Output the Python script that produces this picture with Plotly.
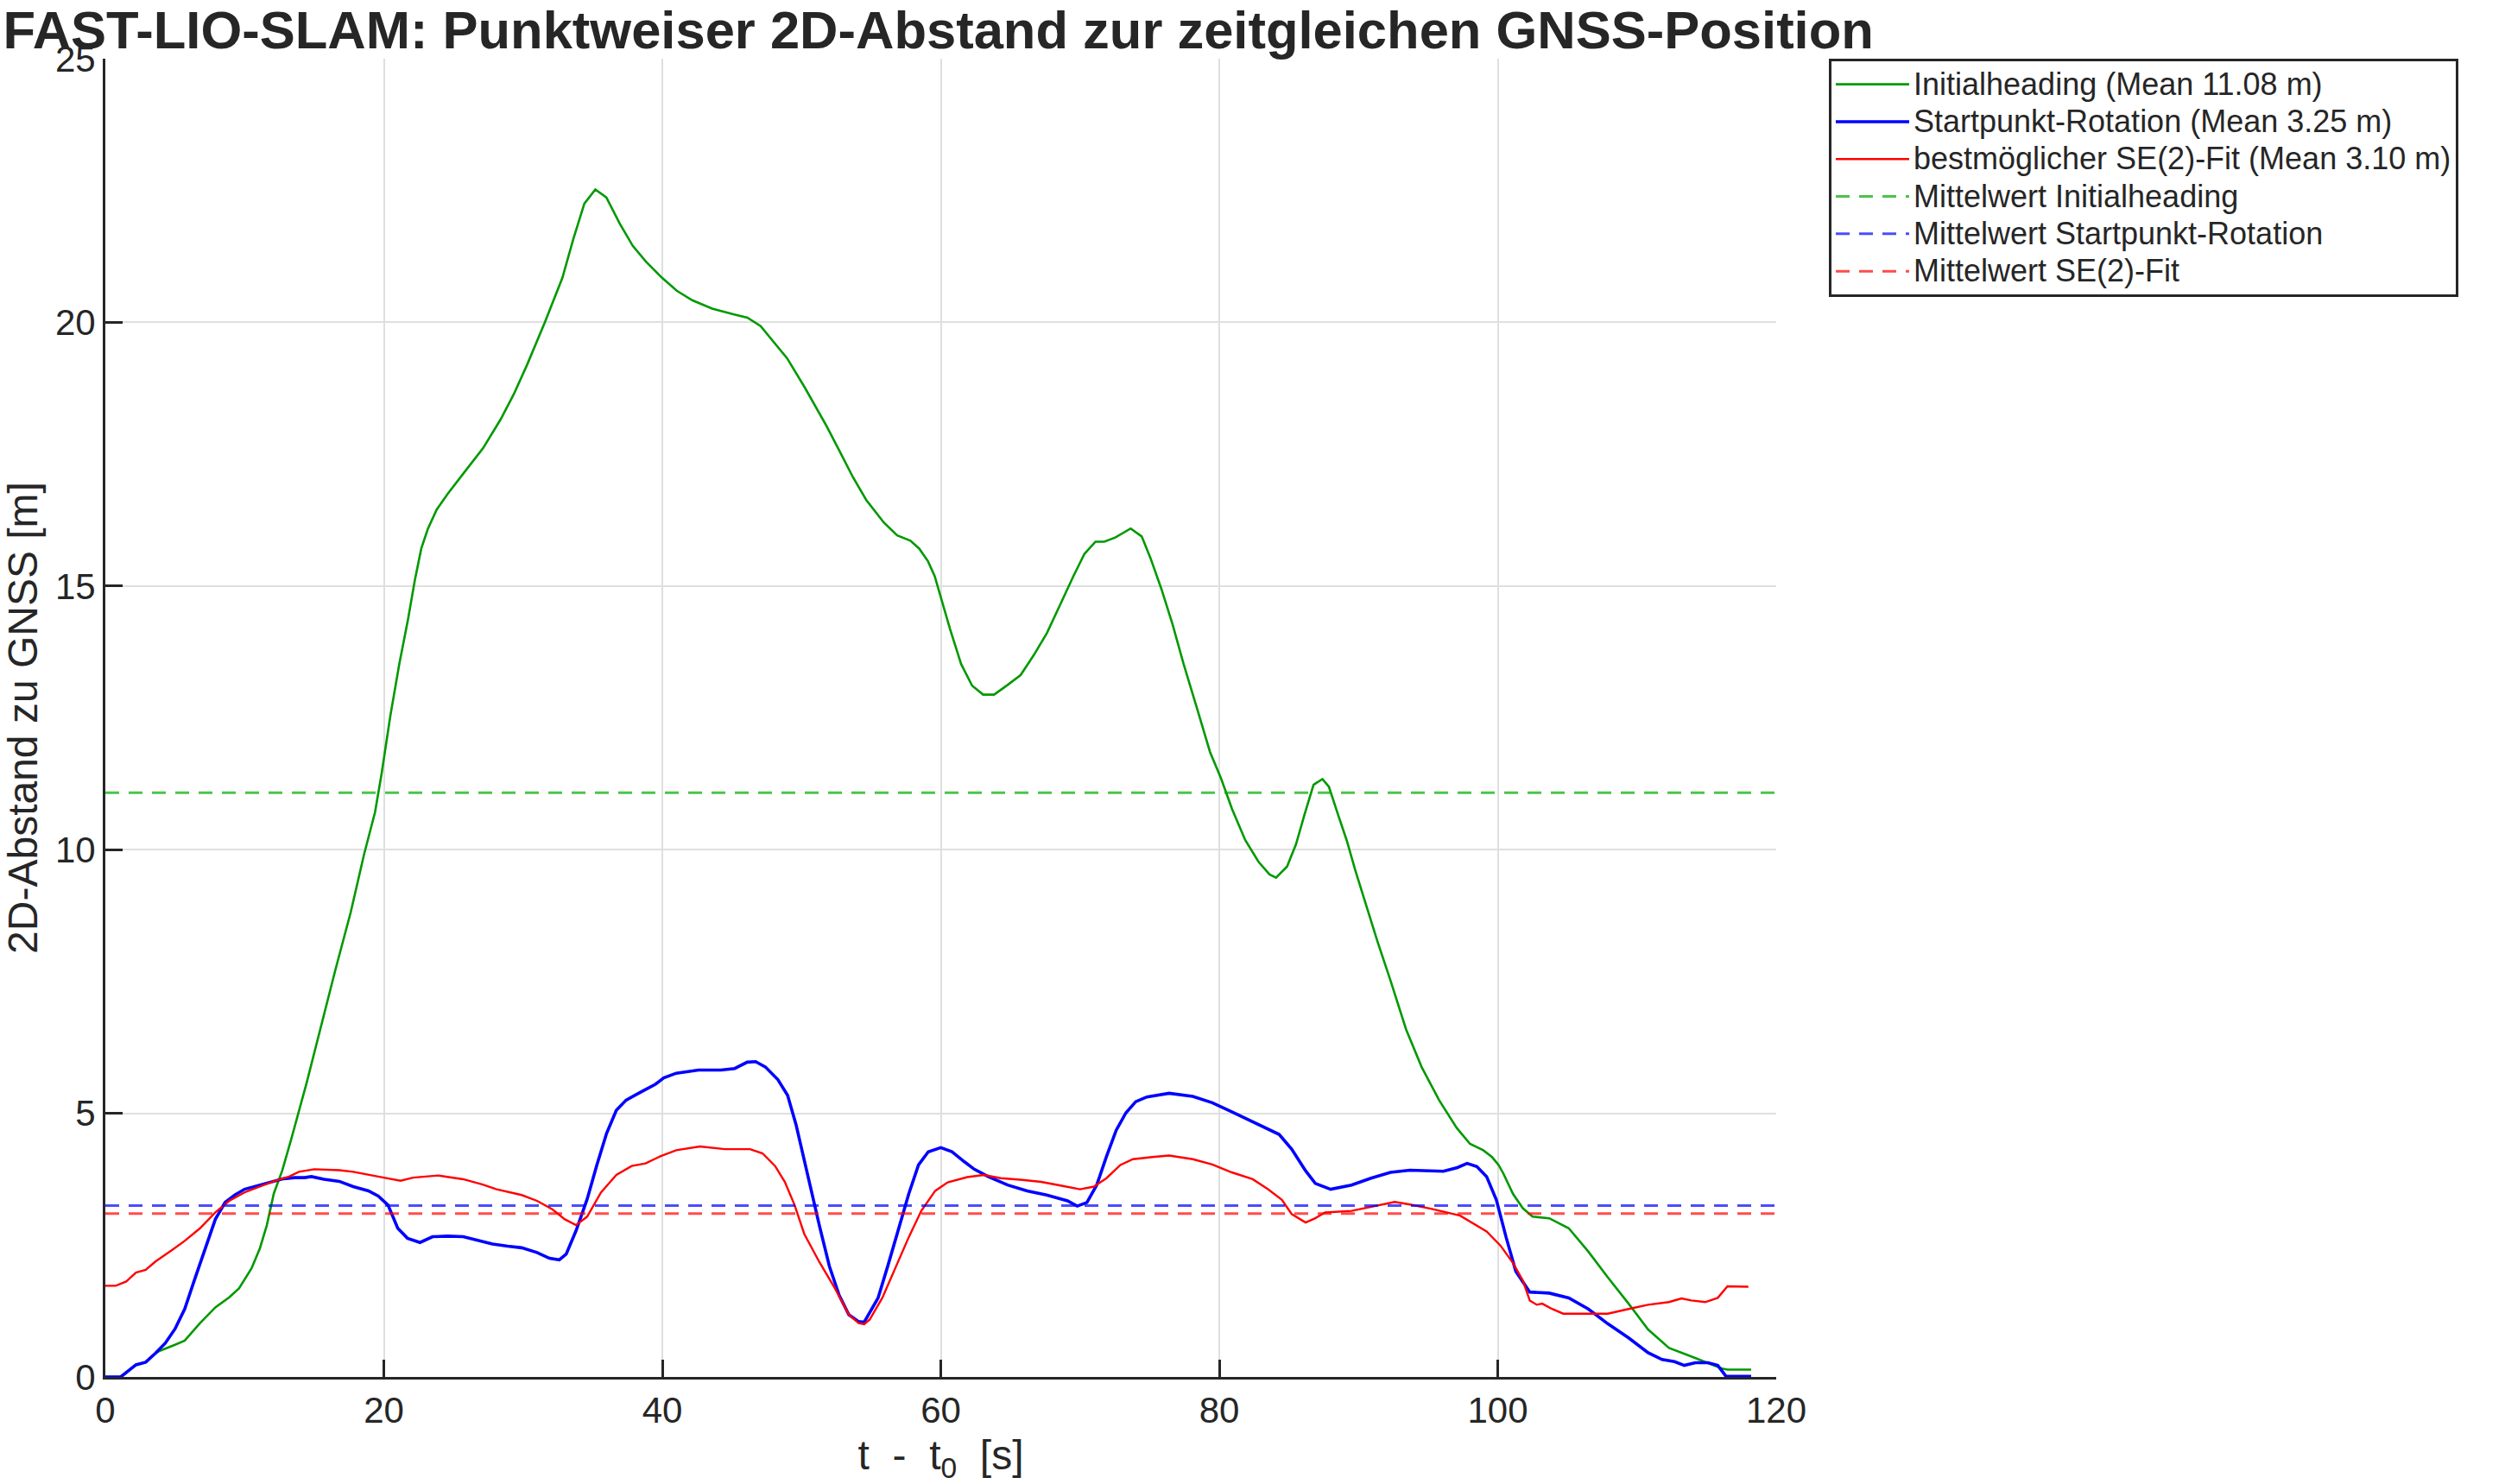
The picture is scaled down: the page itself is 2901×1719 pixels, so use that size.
import plotly.graph_objects as go

# ---------------- data ----------------
t_green = [0, 1.1, 2.2, 2.9, 3.6, 3.95, 5.0, 5.7, 6.8, 7.9, 8.9, 9.6, 10.5, 11.1, 11.6, 12.1, 12.7,
           13.35, 14.46, 15.57, 16.52, 17.63, 18.58, 19.37, 19.84, 20.47, 21.11, 21.74, 22.22, 22.69,
           23.16, 23.8, 24.59, 25.85, 27.12, 28.39, 29.34, 30.28, 31.55, 32.82, 33.61, 34.4, 35.19,
           35.98, 36.93, 37.88, 38.83, 40.0, 41.04, 42.15, 43.58, 45.16, 46.11, 47.06, 48.01, 48.96,
           50.22, 51.80, 52.75, 53.70, 54.65, 55.92, 56.87, 57.82, 58.45, 59.08, 59.56, 60.03, 60.66,
           61.46, 62.25, 63.04, 63.83, 64.78, 65.73, 66.68, 67.63, 68.58, 69.53, 70.32, 71.11, 71.74,
           72.53, 73.64, 74.43, 75.06, 75.85, 76.65, 77.44, 78.39, 79.34, 80.13, 80.92, 81.87, 82.82,
           83.61, 84.08, 84.87, 85.51, 86.14, 86.77, 87.41, 87.88, 88.51, 89.15, 89.78, 90.57, 91.36,
           92.31, 93.42, 94.53, 95.79, 97.06, 98.01, 98.96, 99.59, 100.06, 100.4, 101.1, 101.8, 102.5,
           103.7, 105.1, 106.5, 107.9, 109.4, 110.8, 112.3, 113.7, 115.1, 116.1, 116.5, 118.2]
d_green = [0, 0, 0.23, 0.28, 0.45, 0.50, 0.61, 0.69, 1.02, 1.32, 1.51, 1.68, 2.06, 2.44, 2.88, 3.48, 3.91,
           4.51, 5.58, 6.74, 7.72, 8.82, 9.91, 10.71, 11.44, 12.54, 13.52, 14.37, 15.10, 15.71,
           16.08, 16.45, 16.75, 17.18, 17.61, 18.16, 18.64, 19.19, 19.99, 20.84, 21.58, 22.25, 22.52,
           22.37, 21.88, 21.45, 21.15, 20.84, 20.60, 20.42, 20.26, 20.15, 20.09, 19.93, 19.62, 19.32,
           18.77, 18.03, 17.55, 17.06, 16.63, 16.20, 15.96, 15.86, 15.71, 15.47, 15.19, 14.77, 14.19,
           13.52, 13.11, 12.94, 12.94, 13.12, 13.31, 13.69, 14.11, 14.65, 15.19, 15.61, 15.84, 15.84,
           15.92, 16.09, 15.94, 15.53, 14.94, 14.27, 13.52, 12.69, 11.85, 11.35, 10.77, 10.18, 9.77,
           9.53, 9.47, 9.68, 10.10, 10.68, 11.23, 11.34, 11.19, 10.68, 10.18, 9.60, 8.93, 8.26,
           7.51, 6.59, 5.88, 5.25, 4.72, 4.42, 4.30, 4.17, 4.02, 3.86, 3.47, 3.20, 3.04,
           3.01, 2.82, 2.38, 1.89, 1.39, 0.90, 0.55, 0.41, 0.27, 0.16, 0.14, 0.14]

t_blue = [0, 1.1, 2.2, 2.9, 3.6, 4.3, 5.0, 5.7, 6.4, 7.2, 7.9, 8.6, 9.3, 10.0, 10.7, 11.4, 12.1, 12.8,
          13.6, 14.3, 14.8, 15.7, 16.8, 17.8, 18.9, 19.6, 20.3, 21.0, 21.7, 22.6, 23.5, 24.6, 25.7,
          26.7, 27.8, 28.9, 29.9, 31.0, 31.9, 32.6, 33.1, 33.8, 34.6, 35.3, 36.0, 36.7, 37.4, 38.5,
          39.5, 40.1, 41.0, 42.6, 44.2, 45.2, 46.1, 46.7, 47.4, 48.3, 49.0, 49.6, 49.9, 50.6, 51.3,
          52.0, 52.7, 53.4, 54.1, 54.5, 54.8, 55.5, 56.2, 57.0, 57.7, 58.4, 59.1, 60.0, 60.8, 61.7,
          62.4, 63.4, 64.8, 66.2, 67.6, 69.1, 69.8, 70.5, 71.2, 71.9, 72.6, 73.3, 74.0, 74.8, 76.4,
          78.1, 79.5, 80.9, 82.4, 84.3, 85.2, 86.2, 86.9, 88.0, 89.5, 90.9, 92.3, 93.7, 96.1, 97.1,
          97.8, 98.5, 99.2, 99.9, 100.6, 101.3, 102.3, 103.7, 105.1, 106.5, 107.9, 109.4, 110.8,
          111.8, 112.7, 113.4, 114.2, 115.1, 115.8, 116.4, 118.2]
d_blue = [0, 0, 0.23, 0.28, 0.45, 0.64, 0.91, 1.29, 1.84, 2.44, 2.99, 3.31, 3.45, 3.56, 3.61, 3.67, 3.72, 3.76,
          3.78, 3.78, 3.80, 3.75, 3.71, 3.61, 3.53, 3.43, 3.26, 2.82, 2.63, 2.55, 2.66, 2.67, 2.66,
          2.60, 2.52, 2.48, 2.45, 2.36, 2.25, 2.22, 2.33, 2.77, 3.37, 4.02, 4.62, 5.06, 5.25, 5.41,
          5.55, 5.67, 5.76, 5.82, 5.82, 5.85, 5.97, 5.98, 5.88, 5.64, 5.34, 4.79, 4.45, 3.60, 2.85,
          2.10, 1.55, 1.18, 1.05, 1.04, 1.18, 1.50, 2.11, 2.82, 3.47, 4.02, 4.27, 4.35, 4.27, 4.08,
          3.94, 3.80, 3.64, 3.53, 3.45, 3.34, 3.24, 3.31, 3.64, 4.18, 4.68, 5.01, 5.22, 5.31, 5.38,
          5.32, 5.20, 5.03, 4.84, 4.60, 4.32, 3.91, 3.67, 3.56, 3.64, 3.77, 3.88, 3.92, 3.90, 3.97,
          4.05, 3.99, 3.80, 3.36, 2.65, 2.00, 1.61, 1.59, 1.50, 1.29, 1.01, 0.74, 0.46,
          0.33, 0.29, 0.22, 0.27, 0.27, 0.22, 0.01, 0.01]

t_red = [0, 0.75, 1.5, 2.2, 2.9, 3.6, 4.7, 5.7, 6.8, 7.9, 8.9, 10.0, 11.1, 12.1, 13.2, 13.9, 15.0, 16.8,
         17.8, 18.9, 20.0, 21.2, 22.1, 23.9, 25.7, 27.1, 28.1, 29.9, 31.0, 32.1, 33.0, 33.8, 34.6,
         35.6, 36.7, 37.8, 38.8, 39.9, 41.0, 42.7, 44.5, 46.3, 47.2, 48.1, 48.8, 49.5, 50.2, 51.3,
         52.4, 53.4, 54.1, 54.5, 54.9, 55.8, 56.7, 57.7, 58.6, 59.6, 60.5, 61.9, 63.1, 64.3, 65.7,
         67.2, 68.6, 70.0, 71.0, 71.9, 72.9, 73.8, 75.2, 76.4, 78.1, 79.5, 80.9, 82.4, 83.5, 84.5,
         85.2, 86.2, 86.9, 87.6, 89.5, 90.9, 92.6, 93.7, 95.2, 97.3, 98.0, 99.2, 100.2, 101.1, 101.8,
         102.3, 102.8, 103.2, 103.9, 104.7, 106.5, 107.9, 109.4, 110.8, 112.3, 113.2, 113.9, 114.9,
         115.8, 116.5, 118.0]
d_red = [1.73, 1.73, 1.81, 1.98, 2.03, 2.19, 2.39, 2.58, 2.82, 3.12, 3.34, 3.50, 3.61, 3.71, 3.80, 3.89, 3.94, 3.92,
         3.89, 3.84, 3.78, 3.72, 3.78, 3.82, 3.75, 3.65, 3.56, 3.45, 3.34, 3.18, 2.99, 2.88, 3.04,
         3.50, 3.83, 4.00, 4.05, 4.19, 4.30, 4.37, 4.32, 4.32, 4.24, 4.00, 3.70, 3.26, 2.71, 2.17,
         1.68, 1.18, 1.02, 1.00, 1.09, 1.50, 2.05, 2.65, 3.15, 3.53, 3.69, 3.79, 3.83, 3.77, 3.74,
         3.70, 3.63, 3.56, 3.61, 3.77, 4.02, 4.13, 4.17, 4.20, 4.13, 4.03, 3.88, 3.75, 3.56, 3.36,
         3.09, 2.93, 3.01, 3.12, 3.15, 3.23, 3.32, 3.27, 3.19, 3.06, 2.95, 2.76, 2.49, 2.16, 1.83,
         1.45, 1.37, 1.39, 1.29, 1.20, 1.20, 1.20, 1.29, 1.37, 1.42, 1.49, 1.45, 1.42,
         1.50, 1.72, 1.71]

mean_names = ["Mittelwert Initialheading", "Mittelwert Startpunkt-Rotation", "Mittelwert SE(2)-Fit"]
mean_values = [11.08, 3.25, 3.10]
mean_span = [0, 120]

series_names = ["Initialheading (Mean 11.08 m)", "Startpunkt-Rotation (Mean 3.25 m)",
                "bestmöglicher SE(2)-Fit (Mean 3.10 m)"]

x_ticks = [0, 20, 40, 60, 80, 100, 120]
y_ticks = [0, 5, 10, 15, 20, 25]

# ---------------- styling ----------------
FONT = "Liberation Sans, Arial, Helvetica, sans-serif"
AX = "#262626"
line_colors = ["rgb(0,153,0)", "rgb(0,0,255)", "rgb(255,0,0)"]
line_widths = [2.6, 3.6, 2.4]
mean_colors = ["rgba(0,170,0,0.7)", "rgba(0,0,255,0.7)", "rgba(255,0,0,0.7)"]
LEG_TXT = 36


def leg(name):
    return f'<span style="font-size:{LEG_TXT}px">{name}</span>'


fig = go.Figure()
for t, d, name, c, w in zip([t_green, t_blue, t_red], [d_green, d_blue, d_red],
                            series_names, line_colors, line_widths):
    fig.add_trace(go.Scatter(x=t, y=d, mode="lines", name=leg(name),
                             line=dict(color=c, width=w)))
for name, m, c in zip(mean_names, mean_values, mean_colors):
    fig.add_trace(go.Scatter(x=mean_span, y=[m, m], mode="lines", name=leg(name),
                             line=dict(color=c, width=3, dash="16px,11px")))

fig.update_layout(
    width=2901, height=1719,
    margin=dict(l=122, r=844, t=68, b=124),
    paper_bgcolor="white", plot_bgcolor="white",
    font=dict(family=FONT, color=AX),
    title=dict(text="<b>FAST-LIO-SLAM: Punktweiser 2D-Abstand zur zeitgleichen GNSS-Position</b>",
               font=dict(size=61.5, family=FONT, color=AX),
               x=0.0012, xref="container", xanchor="left",
               y=1 - 34 / 1719, yref="container", yanchor="middle"),
    legend=dict(x=(2118 - 122) / 1935, y=1.0, xanchor="left", yanchor="top",
                bgcolor="white", bordercolor=AX, borderwidth=3,
                font=dict(size=31, family=FONT, color=AX),
                itemwidth=85, tracegroupgap=0),
    showlegend=True,
)
fig.update_xaxes(range=[0, 120], tickvals=x_ticks, ticktext=[str(v) for v in x_ticks],
                 showgrid=True, gridcolor="#DFDFDF", gridwidth=2, zeroline=False,
                 showline=True, linecolor=AX, linewidth=3, mirror=False,
                 ticks="inside", ticklen=20, tickwidth=3, tickcolor=AX,
                 tickfont=dict(size=42, family=FONT, color=AX),
                 title=dict(text="t\u00a0\u00a0-\u00a0\u00a0t<sub>0</sub>\u00a0\u00a0[s]",
                            font=dict(size=48, family=FONT, color=AX), standoff=15),
                 automargin=False)
fig.update_yaxes(range=[0, 25], tickvals=y_ticks, ticktext=[str(v) for v in y_ticks],
                 showgrid=True, gridcolor="#DFDFDF", gridwidth=2, zeroline=False,
                 showline=True, linecolor=AX, linewidth=3, mirror=False,
                 ticks="inside", ticklen=20, tickwidth=3, tickcolor=AX,
                 tickfont=dict(size=42, family=FONT, color=AX),
                 title=dict(text="2D-Abstand zu GNSS [m]",
                            font=dict(size=48, family=FONT, color=AX), standoff=10),
                 automargin=False)

fig.write_html("out.html")
